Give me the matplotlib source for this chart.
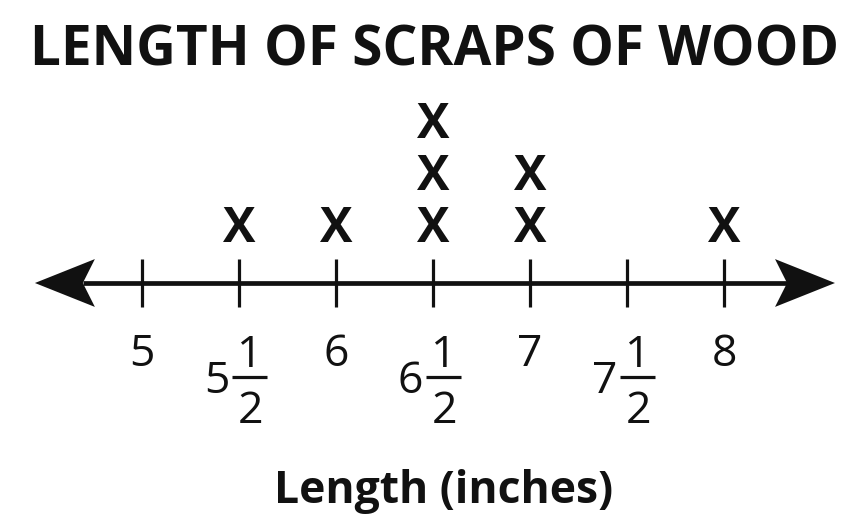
import numpy as np
import matplotlib.pyplot as plt
from matplotlib.patches import Polygon

# data
lengths = [5.5, 6, 6.5, 6.5, 6.5, 7, 7, 8]
tick_values = [5, 5.5, 6, 6.5, 7, 7.5, 8]
tick_labels = ['5', '5 1/2', '6', '6 1/2', '7', '7 1/2', '8']
axis_ends = [4.448, 8.572]

title = 'LENGTH OF SCRAPS OF WOOD'
xlabel = 'Length (inches)'

ink = '#111111'
font = 'Open Sans'

fig = plt.figure(figsize=(8.68, 5.26), dpi=100)
ax = fig.add_axes([0, 0, 1, 1])
ax.set_xlim(4.268, 4.268 + 868 / 194)
ax.set_ylim((283 - 526) / 52, 283 / 52)
ax.axis('off')

# number line with notched arrow heads
head_len, notch, half_w = 0.309, 0.247, 0.46
left, right = axis_ends
ax.plot([left + notch, right - notch], [0, 0], color=ink, lw=3.4, solid_capstyle='butt')
for tip, d in [(left, 1), (right, -1)]:
    pts = [(tip, 0), (tip + d * head_len, half_w), (tip + d * notch, 0),
           (tip + d * head_len, -half_w)]
    ax.add_patch(Polygon(pts, closed=True, color=ink, lw=0))

for t in tick_values:
    ax.plot([t, t], [-half_w, half_w], color=ink, lw=2.3, solid_capstyle='butt')

# tick labels, mixed numbers drawn as stacked fractions
for t, lab in zip(tick_values, tick_labels):
    if ' ' in lab:
        whole, frac = lab.split(' ')
        num, den = frac.split('/')
        ax.text(t - 0.05, -2.115, whole, ha='right', va='baseline', fontsize=32,
                family=font, color=ink)
        ax.text(t + 0.057, -1.615, num, ha='center', va='baseline', fontsize=32,
                family=font, color=ink)
        ax.text(t + 0.057, -2.69, den, ha='center', va='baseline', fontsize=32,
                family=font, color=ink)
        ax.plot([t - 0.036, t + 0.144], [-1.81, -1.81], color=ink, lw=2.3,
                solid_capstyle='butt')
    else:
        ax.text(t, -1.6, lab, ha='center', va='baseline', fontsize=32,
                family=font, color=ink)

# stacked X marks
vals, counts = np.unique(lengths, return_counts=True)
for v, c in zip(vals, counts):
    for k in range(1, c + 1):
        ax.text(v, k - 0.21, 'X', ha='center', va='baseline', fontsize=35,
                fontweight='bold', family=font, color=ink)

fig.text(0.501, 1 - 65 / 526, title, ha='center', va='baseline', fontsize=39.5,
         fontweight='bold', family=font, color=ink)
fig.text(0.511, 1 - 503 / 526, xlabel, ha='center', va='baseline', fontsize=32,
         fontweight='bold', family=font, color=ink)

fig.savefig('out.png', dpi=100)
